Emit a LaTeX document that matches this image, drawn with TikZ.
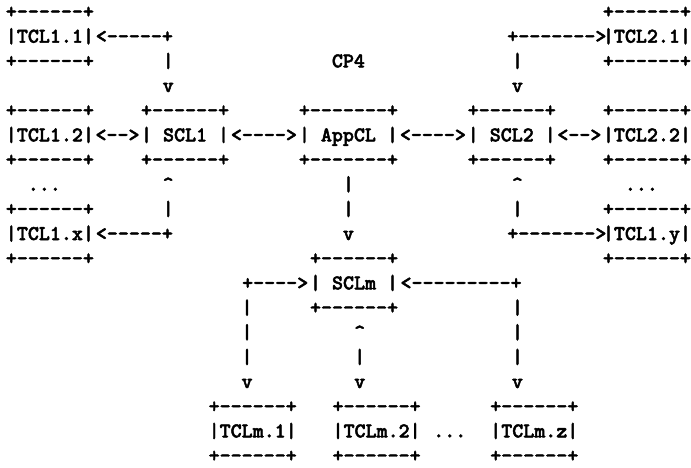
\documentclass[tikz,border=0pt]{standalone}
\usepackage{fontspec}
\newfontfamily\artfont{lmmonolt10-bold.otf}[FakeBold=2.2]
\newcommand{\arttt}{\artfont\fontsize{21pt}{24pt}\selectfont}
\tikzset{
  ch/.style={font=\arttt, inner sep=0pt, anchor=base},
}
\begin{document}
\begin{tikzpicture}[x=11.28pt, y=-24.7pt]

    %% =========================================================
    %% character grid: x = column (one typewriter cell),
    %% y = line, line 0 at the top, line 18 at the bottom
    %% =========================================================
    \fill[white] (-0.93,-0.73) rectangle (60.33,18.22);

    %% BOXES (label line r, centre column c)
    \foreach \nm/\cx/\ry/\lbl in {
        tclA/3.5/1/{|TCL1.1|},   tclB/3.5/5/{|TCL1.2|},   tclX/3.5/9/{|TCL1.x|},
        tclC/56.5/1/{|TCL2.1|},  tclD/56.5/5/{|TCL2.2|},  tclY/56.5/9/{|TCL1.y|},
        sclA/15.5/5/{| SCL1 |},  sclB/44.5/5/{| SCL2 |},  sclM/30.5/11/{| SCLm |},
        tclM/21.5/17/{|TCLm.1|}, tclN/32.5/17/{|TCLm.2|}, tclZ/46.5/17/{|TCLm.z|}}{
      \node[ch] (\nm-t) at (\cx,\ry-1) {+------+};
      \node[ch] (\nm)   at (\cx,\ry)   {\lbl};
      \node[ch] (\nm-b) at (\cx,\ry+1) {+------+};
    }

    % AppCL is one cell wider
    \node[ch] (app-t) at (30,4) {+-------+};
    \node[ch] (app)   at (30,5) {| AppCL |};
    \node[ch] (app-b) at (30,6) {+-------+};

    \node[ch] (cp) at (30,2) {CP4};

    %% HORIZONTAL LINKS
    \node[ch] (lnkA) at (11,1)    {<-----+};
    \node[ch] (lnkB) at (48.5,1)  {+------->};
    \node[ch] (lnkC) at (9.5,5)   {<-->};
    \node[ch] (lnkD) at (22.5,5)  {<---->};
    \node[ch] (lnkE) at (37.5,5)  {<---->};
    \node[ch] (lnkF) at (50.5,5)  {<-->};
    \node[ch] (lnkG) at (11,9)    {<-----+};
    \node[ch] (lnkH) at (48.5,9)  {+------->};
    \node[ch] (lnkI) at (23.5,11) {+---->};
    \node[ch] (lnkJ) at (40,11)   {<---------+};

    %% VERTICAL LINKS (column/line/character)
    \foreach \cx/\ry/\sym [count=\i] in {
        14/2/|, 14/3/v, 14/7/\textasciicircum, 14/8/|,
        45/2/|, 45/3/v, 45/7/\textasciicircum, 45/8/|,
        30/7/|, 30/8/|, 30/9/v,
        21/12/|, 21/13/|, 21/14/|, 21/15/v,
        31/13/\textasciicircum, 31/14/|, 31/15/v,
        45/12/|, 45/13/|, 45/14/|, 45/15/v}{
      \node[ch] (vl\i) at (\cx,\ry) {\sym};
    }

    %% ELLIPSES
    \node[ch] (dotsA) at (3,7)   {...};
    \node[ch] (dotsB) at (56,7)  {...};
    \node[ch] (dotsC) at (39,17) {...};

\end{tikzpicture}
\end{document}
